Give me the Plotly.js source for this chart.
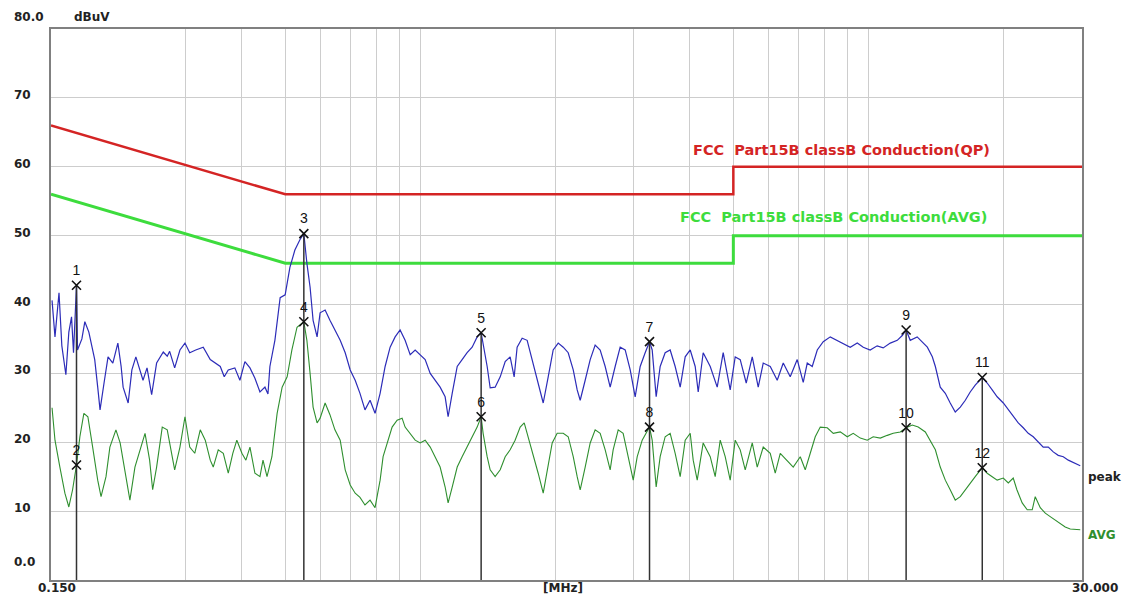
<!DOCTYPE html>
<html>
<head>
<meta charset="utf-8">
<script src="https://cdn.plot.ly/plotly-3.0.1.min.js"></script>
<style>html,body{margin:0;padding:0;background:#fff;}#chart{width:1127px;height:600px;}</style>
</head>
<body>
<div id="chart"></div>
<script>
// ---- data (frequency in MHz, level in dBuV) ----
const peakFreq = [0.1508,0.1531,0.1563,0.1586,0.1619,0.1644,0.1667,0.1684,0.171,0.1719,0.1758,0.1785,0.1822,0.1849,0.1878,0.1907,0.193,0.197,0.2011,0.2061,0.2115,0.2151,0.2173,0.223,0.2273,0.232,0.237,0.2407,0.2457,0.2516,0.2581,0.2671,0.2726,0.276,0.2832,0.291,0.2986,0.306,0.3156,0.328,0.340,0.3488,0.358,0.3654,0.373,0.3858,0.396,0.4063,0.417,0.4278,0.439,0.4504,0.4574,0.462,0.474,0.487,0.4997,0.512,0.5253,0.539,0.55,0.5587,0.568,0.5768,0.5888,0.598,0.6136,0.629,0.6453,0.663,0.6803,0.698,0.7161,0.734,0.7531,0.773,0.7931,0.814,0.8352,0.857,0.8793,0.902,0.9255,0.950,0.9747,1.000,1.026,1.053,1.080,1.108,1.137,1.1545,1.179,1.2097,1.2406,1.273,1.3063,1.3403,1.368,1.382,1.411,1.433,1.470,1.509,1.548,1.588,1.621,1.646,1.689,1.733,1.778,1.824,1.882,1.931,1.981,2.033,2.086,2.140,2.196,2.241,2.276,2.335,2.396,2.458,2.522,2.588,2.655,2.724,2.795,2.868,2.943,3.019,3.098,3.178,3.25,3.295,3.363,3.433,3.522,3.614,3.708,3.805,3.904,4.006,4.110,4.174,4.282,4.440,4.602,4.746,4.920,5.048,5.180,5.342,5.510,5.682,5.830,6.044,6.265,6.462,6.698,6.943,7.161,7.310,7.500,7.696,7.936,8.228,8.529,8.796,9.118,9.452,9.749,10.10,10.47,10.80,11.20,11.61,11.91,12.15,12.41,12.86,13.27,13.55,13.90,14.12,14.48,14.86,15.24,15.64,16.05,16.47,16.89,17.33,17.97,18.43,18.91,19.40,20.02,20.54,21.07,21.62,22.18,22.76,23.35,23.96,24.58,25.23,25.88,26.55,27.25,27.96,28.68,29.73];
const peakLevel = [40.6,35.3,41.7,34,29.8,36,38.2,33,42.8,33.4,35,37.5,36,34,32,28,24.7,28.6,32.4,31.5,34.4,31,28,25.7,30.5,32.4,30.5,29,30.8,26.9,31.5,33.1,32.5,33.2,30.8,33.4,34.4,33,33.4,33.8,32,31.5,31,29.5,30.5,30.8,29,31.7,30.8,29.3,27.3,28,27,31,34.8,41,41.4,45.4,47.9,49.4,50.3,46,42.5,37.7,35.3,38.8,39.2,37.7,36.3,34.8,33,30.5,29,27.1,24.7,26.1,24.2,27.1,31,33.8,35.3,36.3,34.8,32.7,33.4,32.7,32,30,29,28,26.6,23.7,27.1,31,32,33,33.8,35.3,35.9,34.4,31,27.9,28,29.5,31.7,32.4,29.5,33.8,35.1,34.8,32,29,25.7,29.5,33.4,34.4,33.8,33,30.5,27.6,26.1,29,32,34.1,33.4,31,28,31,33.8,33.4,30.5,26.6,31,33,34.6,33.4,26.6,31,33,33.4,31,28,32.4,33.4,31,27.3,33,31,28,33,27.6,32.4,32,28.6,32.4,28,31.5,31,29,31.5,29.5,32,28.7,31.5,31,33.4,34.6,35.3,34.8,34.4,33.8,34.4,33.8,33.4,34,33.7,34.4,34.8,35.5,36.3,34.8,35.3,34.4,33.8,32.4,31,28,27.1,25.7,24.4,25.1,26.1,27.3,28.3,29.4,28.6,27.6,26.6,25.7,24.7,23.7,22.8,22.1,21.3,20.8,20,19.3,19.3,18.6,18.1,17.9,17.4,17.1,16.6];

const avgFreq = [0.1508,0.1531,0.157,0.1611,0.1644,0.1676,0.171,0.174,0.1776,0.1813,0.1858,0.1907,0.194,0.199,0.203,0.2094,0.214,0.2196,0.225,0.2309,0.237,0.2432,0.249,0.2529,0.2581,0.2657,0.2726,0.2788,0.2832,0.291,0.2986,0.306,0.314,0.323,0.3314,0.340,0.3453,0.3543,0.3636,0.373,0.3818,0.3898,0.4001,0.4084,0.417,0.4278,0.439,0.4459,0.4552,0.4668,0.4795,0.492,0.5048,0.5173,0.5311,0.55,0.5587,0.568,0.5768,0.5888,0.598,0.6136,0.629,0.6453,0.663,0.6803,0.698,0.7161,0.734,0.7531,0.773,0.7931,0.814,0.8266,0.8438,0.8658,0.8884,0.9113,0.9255,0.950,0.9747,1.000,1.026,1.053,1.080,1.108,1.137,1.1545,1.179,1.2097,1.2406,1.273,1.3063,1.3403,1.368,1.382,1.411,1.433,1.470,1.509,1.548,1.588,1.629,1.672,1.707,1.742,1.787,1.834,1.882,1.931,1.971,2.022,2.086,2.140,2.196,2.241,2.276,2.335,2.396,2.458,2.522,2.588,2.655,2.696,2.767,2.838,2.912,2.989,3.051,3.130,3.25,3.295,3.363,3.433,3.522,3.614,3.708,3.805,3.904,4.006,4.068,4.153,4.282,4.440,4.555,4.674,4.795,4.920,5.048,5.180,5.315,5.510,5.653,5.830,6.044,6.201,6.363,6.596,6.802,7.052,7.235,7.424,7.617,7.815,8.101,8.356,8.662,8.979,9.259,9.600,9.951,10.26,10.64,11.03,11.37,11.79,12.15,12.54,12.93,13.41,13.76,14.12,14.48,14.86,15.24,15.64,16.05,16.47,16.89,17.33,17.97,18.43,18.91,19.40,20.02,20.54,21.07,21.47,22.06,22.64,23.23,23.59,24.21,24.84,25.48,26.14,26.83,27.52,28.24,28.97,29.73];
const avgLevel = [25,20.3,16.4,12.6,10.6,13.1,16.7,20.8,24.2,23.7,19.3,14.5,12.1,15,19.3,21.8,19.9,15.5,11.6,16.4,18.9,21.3,17.4,13.1,16.4,22.2,21.8,18.4,16,19.3,23.7,19.3,18.4,21.8,20.3,17.4,16.4,18.9,18.4,15.5,18.4,20.3,18.4,17.4,19.3,15.5,15,17.4,15,17.9,24.2,28,29.5,33.4,36.7,37.5,34.8,30,25.1,22.8,23.5,25.7,24,21.8,20.3,16,13.8,12.6,12,10.9,11.6,10.5,14.5,17.9,19.9,22.2,23.2,23.5,22.2,21.3,20.3,19.9,20.3,19.3,17.9,16.4,13.5,11.2,13.5,16.4,17.9,19.3,20.8,22.2,23.7,21.3,17.9,16,15,16,17.9,18.9,20.3,22.2,22.8,20.8,18.4,15.5,12.6,16.4,19.9,21.3,21.3,20.8,17.9,15,13.1,16.4,19.9,21.8,21.3,18.9,16,18.9,21.8,21.3,17.9,14.5,17.9,20.3,22.2,20.3,13.5,17.9,20.8,21.3,18.4,15,20.3,21.3,17.4,14.5,19.9,17.9,15,20.3,17.9,14.5,20.3,18.9,16,19.9,16.4,19.3,18.4,15.5,18.4,17.4,16.4,17.9,16,18.4,20.8,22.2,22.1,21.3,21.5,20.8,21.3,20.6,20.3,20.8,20.6,21,21.3,21.5,22.1,22.5,22.2,21.5,20.3,18.9,16.4,14.5,13.1,11.6,12.1,13.1,14.1,15,16.3,15.5,15,14.5,14.8,14.1,14.8,13.1,11.2,10.2,10.2,12.1,10.5,9.7,9.2,8.7,8.3,7.7,7.4,7.4,7.3];

const qpLimitFreq = [0.15, 0.5, 5, 5, 30];
const qpLimitLevel = [66, 56, 56, 60, 60];
const avgLimitFreq = [0.15, 0.5, 5, 5, 30];
const avgLimitLevel = [56, 46, 46, 50, 50];

const markerNo = ['1','2','3','4','5','6','7','8','9','10','11','12'];
const markerFreq = [0.171,0.171,0.55,0.55,1.368,1.368,3.25,3.25,12.15,12.15,17.97,17.97];
const markerLevel = [42.8,16.7,50.3,37.5,35.9,23.7,34.6,22.2,36.3,22.1,29.4,16.3];

const yTickVals = [80,70,60,50,40,30,20,10,0];
const yTickText = ['80.0','70','60','50','40','30','20','10','0.0'];
const xGrid = [0.3,0.4,0.5,0.6,0.7,0.8,0.9,1,2,3,4,5,6,7,8,9,10,20];
const yGrid = [10,20,30,40,50,60,70];

// ---- build ----
const FONT = '"DejaVu Sans", Verdana, sans-serif';
const LFONT = '"Liberation Sans", Arial, sans-serif';
const vx = [], vy = [];
for (let i = 0; i < markerFreq.length; i += 2) {
  vx.push(markerFreq[i], markerFreq[i], null);
  vy.push(0, markerLevel[i], null);
}

const traces = [
  {x: qpLimitFreq, y: qpLimitLevel, mode: 'lines', line: {color: '#d42424', width: 2.5}, hoverinfo: 'skip'},
  {x: avgLimitFreq, y: avgLimitLevel, mode: 'lines', line: {color: '#3ddc3d', width: 3}, hoverinfo: 'skip'},
  {x: avgFreq, y: avgLevel, mode: 'lines', line: {color: '#2f8f2f', width: 1.1}, hoverinfo: 'skip'},
  {x: peakFreq, y: peakLevel, mode: 'lines', line: {color: '#2c2cb8', width: 1.2}, hoverinfo: 'skip'},
  {x: vx, y: vy, mode: 'lines', line: {color: '#333', width: 1.5}, hoverinfo: 'skip', connectgaps: false},
  {x: markerFreq, y: markerLevel, mode: 'markers+text', text: markerNo, textposition: 'top center',
   textfont: {family: LFONT, size: 14, color: '#111'},
   marker: {symbol: 'x-thin-open', size: 9, color: '#111', line: {color: '#111', width: 1.6}}, hoverinfo: 'skip', cliponaxis: false}
];

const ann = [];
yTickVals.forEach((v, i) => {
  let shift = 3;
  if (v === 80) shift = 12;
  if (v === 0) shift = 18;
  ann.push({xref: 'paper', yref: 'y', x: -0.0378, y: v, xanchor: 'left', yanchor: 'middle', yshift: shift,
    text: '<b>' + yTickText[i] + '</b>', showarrow: false, font: {family: FONT, size: 12, color: '#222'}});
});
ann.push({xref: 'paper', yref: 'paper', x: 0.04, y: 1.0218, xanchor: 'center', yanchor: 'middle', text: '<b>dBuV</b>', showarrow: false, font: {family: FONT, size: 12, color: '#222'}});
ann.push({xref: 'paper', yref: 'paper', x: 0.006, y: -0.0145, xanchor: 'center', yanchor: 'middle', text: '<b>0.150</b>', showarrow: false, font: {family: FONT, size: 12, color: '#222'}});
ann.push({xref: 'paper', yref: 'paper', x: 0.4966, y: -0.0145, xanchor: 'center', yanchor: 'middle', text: '<b>[MHz]</b>', showarrow: false, font: {family: FONT, size: 12, color: '#222'}});
ann.push({xref: 'paper', yref: 'paper', x: 1.0127, y: -0.0145, xanchor: 'center', yanchor: 'middle', text: '<b>30.000</b>', showarrow: false, font: {family: FONT, size: 12, color: '#222'}});
ann.push({xref: 'paper', yref: 'paper', x: 1.004, y: 0.187, xanchor: 'left', yanchor: 'middle', text: '<b>peak</b>', showarrow: false, font: {family: FONT, size: 12, color: '#222'}});
ann.push({xref: 'paper', yref: 'paper', x: 1.004, y: 0.082, xanchor: 'left', yanchor: 'middle', text: '<b>AVG</b>', showarrow: false, font: {family: FONT, size: 12, color: '#2f8f2f'}});
ann.push({xref: 'paper', yref: 'paper', x: 0.767, y: 0.780, xanchor: 'center', yanchor: 'middle', text: '<b>FCC  Part15B classB Conduction(QP)</b>', showarrow: false, font: {family: FONT, size: 14.5, color: '#d42424'}});
ann.push({xref: 'paper', yref: 'paper', x: 0.759, y: 0.659, xanchor: 'center', yanchor: 'middle', text: '<b>FCC  Part15B classB Conduction(AVG)</b>', showarrow: false, font: {family: FONT, size: 14.5, color: '#3ddc3d'}});

const layout = {
  width: 1127, height: 600,
  margin: {l: 51, r: 45, t: 29, b: 20, pad: 0},
  paper_bgcolor: '#ffffff', plot_bgcolor: '#ffffff',
  showlegend: false,
  xaxis: {type: 'log', range: [Math.log10(0.15), Math.log10(30)], tickvals: xGrid, showticklabels: false, ticks: '',
    showgrid: true, gridcolor: '#cdcdcd', gridwidth: 1, zeroline: false,
    showline: true, linecolor: '#808080', linewidth: 2, mirror: true, fixedrange: true},
  yaxis: {range: [0, 80], tickvals: yGrid, showticklabels: false, ticks: '',
    showgrid: true, gridcolor: '#cdcdcd', gridwidth: 1, zeroline: false,
    showline: true, linecolor: '#808080', linewidth: 2, mirror: true, fixedrange: true},
  annotations: ann
};

Plotly.newPlot('chart', traces, layout, {displayModeBar: false, staticPlot: true});
</script>
</body>
</html>
